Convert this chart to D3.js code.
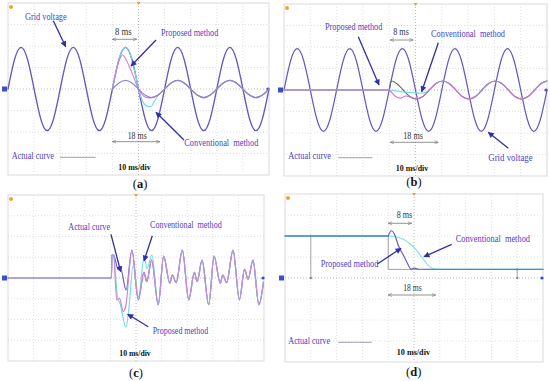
<!DOCTYPE html>
<html><head><meta charset="utf-8">
<script src="https://cdn.jsdelivr.net/npm/d3@7"></script>
<style>body{margin:0;background:#fff}svg{display:block}</style>
</head><body>
<svg id="c" width="550" height="381"></svg>
<script>
// ---------------- DATA (time in ms, value in divisions) ----------------
const STEP = 2.5; // sample spacing of the uniformly sampled waveforms
// (a) phase jump / sag: grid voltage sampled every 2.5 ms from 0 ms
const gridA = [0,1.37,1.94,1.37,0,-1.37,-1.94,-1.37, 0,1.37,1.94,1.37,0,-1.37,-1.94,-1.37,
               0,1.37,1.94,1.37,0,-1.37,-1.94,-1.37, 0,1.37,1.94,1.37,0,-1.37,-1.94,-1.37,
               0,1.37,1.94,1.37,0,-1.37,-1.94,-1.37, 0];
// (a) actual curve after the sag, sampled every 2.5 ms from 40 ms
const sagA = [0,0.28,0.4,0.28,0,-0.28,-0.4,-0.28, 0,0.28,0.4,0.28,0,-0.28,-0.4,-0.28,
              0,0.28,0.4,0.28,0,-0.28,-0.4,-0.28, 0];
const propA = [[40,0],[41.25,0.74],[42.5,1.3],[43.9,1.58],[45.5,1.3],[47.5,0.75],[50,0],[52,-0.33],[53.8,-0.42],[55,-0.4]];
const convA = [[40,0],[41.25,0.74],[42.5,1.37],[43.75,1.79],[45,1.94],[46.25,1.79],[47.5,1.37],[48.75,0.74],[50,0],[51.5,-0.55],[53.2,-0.8],[54.8,-0.82],[56,-0.6],[57.5,-0.3]];

// (b)
const gridB = [0,1.36,1.92,1.36,0,-1.36,-1.92,-1.36, 0,1.36,1.92,1.36,0,-1.36,-1.92,-1.36,
               0,1.36,1.92,1.36,0,-1.36,-1.92,-1.36, 0,1.36,1.92,1.36,0,-1.36,-1.92,-1.36,
               0,1.36,1.92,1.36,0,-1.36,-1.92,-1.36, 0];
const actB = [[0,0],[40,0],[40.6,0.39],[41.3,0.41],[42.8,0.30],[45.3,0],[47.8,-0.30],[50.3,-0.42],[52.8,-0.30],[55.3,0],
              [57.8,0.30],[60.3,0.42],[62.8,0.30],[65.3,0],[67.8,-0.30],[70.3,-0.42],[72.8,-0.30],[75.3,0],[77.8,0.30],
              [80.3,0.42],[82.8,0.30],[85.3,0],[87.8,-0.30],[90.3,-0.42],[92.8,-0.30],[95.3,0],[97.8,0.30],[100,0.42]];
const propBTrans = [[0,0],[40,0],[41,-0.12],[42.4,-0.3],[44.3,-0.38],[46.2,-0.28],[47.8,-0.31]];
const convBTrans = [[0,0],[40,0],[43,-0.05],[46,-0.1],[49,-0.13],[52,-0.15],[54.3,-0.08],[56.3,0.12]];

// (c) harmonic distortion
const actC = [[0,0],[40.4,0],[40.6,1.1],[41.2,1.12],[43.1,0.39],[44.0,0.47],[46.1,-0.58],
  [48.4,1.35],[50.9,-1.05],[53.1,0.27],[54.2,-0.18],[56.1,0.86],[58.7,-1.29],[60.8,1.05],[63.2,-0.25],[64.2,0.14],[65.7,-0.22],
  [68.1,1.34],[70.6,-1.05],[72.8,0.27],[73.9,-0.18],[75.8,0.86],[78.4,-1.29],[80.5,1.05],[82.9,-0.25],[83.9,0.14],[85.4,-0.22],
  [87.9,1.34],[90.4,-1.05],[92.4,0.42],[93.8,-0.06],[95.7,0.86],[98.0,-1.29],[99.8,-0.2]];
const propCTrans = [[0,0],[40.4,0],[40.6,1.1],[41.2,1.12],[42.5,-1.06],[43.6,-0.98],[45.0,-1.62],[46.0,-1.35],[48.4,1.35]];
const convCTrans = [[0,0],[40.4,0],[40.6,1.1],[41.2,1.12],[42.7,-0.85],[43.8,-1.25],[46.1,-2.38],[47.1,-1.6],[48.9,0.6],
  [51.0,-0.9],[53.2,1.03],[54.3,0.45],[56.2,1.1],[58.7,-1.29]];

// (d) amplitude step
const actD = [[0,2.0],[40,2.0],[40,0.41],[100,0.41]];
const propD = [[0,2.0],[40,2.0],[41.2,2.25],[42.3,2.12],[43.9,1.56],[45.9,1.08],[47.2,0.76],[48.3,0.5],[48.9,0.42],[50.0,0.47],[51.5,0.41],[100,0.41]];
const convD = [[0,2.0],[40,2.0],[42,1.98],[44,1.93],[46.5,1.8],[48.5,1.62],[50.4,1.4],[53,1.0],[55.5,0.6],[57,0.46],[58.5,0.41],[100,0.41]];
const cursorsD = [[10,2.0,0],[90,0.41,0]];

// time spans marked on the figures
const spanShort = {a:[40,49.3], b:[40.4,49.2], d:[40,49.1]};
const spanLong  = {a:[40,58.2], b:[40.4,58.7], d:[40,58.4]};

// ---------------- LAYOUT ----------------
const PANELS = {
  a:{x0:8,x1:269,y0:3,y1:175},
  b:{x0:284,x1:547,y0:4,y1:176},
  c:{x0:8,x1:264,y0:195,y1:361},
  d:{x0:285,x1:543,y0:194,y1:362}
};
const COL = {text:'#4b3fc9', arrow:'#2f2fa6', dim:'#777'};
const FONT = '"Liberation Serif","Times New Roman",serif';

const svg = d3.select('#c');
const defs = svg.append('defs');
defs.append('marker').attr('id','ah').attr('viewBox','0 0 10 10').attr('refX',9).attr('refY',5)
  .attr('markerWidth',7).attr('markerHeight',6).attr('markerUnits','userSpaceOnUse').attr('orient','auto')
  .append('path').attr('d','M0,0L10,5L0,10z').attr('fill',COL.arrow);
defs.append('marker').attr('id','dh').attr('viewBox','0 0 10 10').attr('refX',10).attr('refY',5)
  .attr('markerWidth',4).attr('markerHeight',4).attr('markerUnits','userSpaceOnUse').attr('orient','auto-start-reverse')
  .append('path').attr('d','M0,1L10,5L0,9').attr('fill','none').attr('stroke',COL.dim).attr('stroke-width',1.5);

const S = {};
for (const k in PANELS){
  const p = PANELS[k];
  S[k] = {x:d3.scaleLinear().domain([0,100]).range([p.x0,p.x1]),
          y:d3.scaleLinear().domain([-4,4]).range([p.y1,p.y0])};
}

function frame(k){
  const p = PANELS[k], s = S[k], g = svg.append('g');
  g.append('rect').attr('x',p.x0).attr('y',p.y0).attr('width',p.x1-p.x0).attr('height',p.y1-p.y0)
    .attr('fill','none').attr('stroke','#dadada').attr('stroke-width',1);
  g.selectAll('.vx').data(d3.range(1,10)).join('line')
    .attr('x1',d=>s.x(d*10)).attr('x2',d=>s.x(d*10)).attr('y1',p.y0).attr('y2',p.y1)
    .attr('stroke',d=>d===5?'#bdbdbd':'#e0e0e0').attr('stroke-width',1).attr('stroke-dasharray','1,2');
  g.selectAll('.hy').data(d3.range(-3,4)).join('line')
    .attr('y1',d=>s.y(d)).attr('y2',d=>s.y(d)).attr('x1',p.x0).attr('x2',p.x1)
    .attr('stroke',d=>d===0?'#bdbdbd':'#e0e0e0').attr('stroke-width',1).attr('stroke-dasharray','1,2');
  // scope markers
  g.append('circle').attr('cx',p.x0+3).attr('cy',p.y0+4).attr('r',2).attr('fill','#f0a030');
  g.append('path').attr('d',`M${s.x(50)-2},${p.y0-1}L${s.x(50)+2},${p.y0-1}L${s.x(50)},${p.y0+2}z`).attr('fill','#f0a030');
  g.append('rect').attr('x',p.x0-6).attr('y',s.y(0)-2.5).attr('width',5).attr('height',5).attr('fill','#3a4fc4');
  g.append('circle').attr('cx',p.x1-1).attr('cy',s.y(0)).attr('r',1.6).attr('fill','#3a4fc4');
}

function curvePath(k, data, color, w, curve){
  const s = S[k];
  svg.append('path').datum(data)
    .attr('d', d3.line().x(d=>s.x(d[0])).y(d=>s.y(d[1])).curve(curve||d3.curveMonotoneX))
    .attr('fill','none').attr('stroke',color).attr('stroke-width',w)
    .attr('stroke-linejoin','round').attr('stroke-linecap','round');
}
const samples = (arr,t0)=>arr.map((v,i)=>[t0+i*STEP, v]);
const withTail = (trans, tail)=>trans.concat(tail.filter(d=>d[0]>trans[trans.length-1][0]));

function label(txt,x,y,w,opt={}){
  const t = svg.append('text').attr('x',x).attr('y',y).attr('font-family',FONT)
    .attr('font-size',opt.size||9.5).attr('fill',opt.color||COL.text)
    .attr('font-weight',opt.bold?'bold':'normal').style('white-space','pre').text(txt);
  if (w) t.attr('textLength',w).attr('lengthAdjust','spacingAndGlyphs');
}
function arrow(x1,y1,x2,y2){
  svg.append('line').attr('x1',x1).attr('y1',y1).attr('x2',x2).attr('y2',y2)
    .attr('stroke',COL.arrow).attr('stroke-width',1.3).attr('marker-end','url(#ah)');
}
function span(k, sp, y){
  const s = S[k];
  svg.append('line').attr('x1',s.x(sp[0])).attr('x2',s.x(sp[1])).attr('y1',y).attr('y2',y)
    .attr('stroke',COL.dim).attr('stroke-width',0.8)
    .attr('marker-start','url(#dh)').attr('marker-end','url(#dh)');
}
function legendLine(x1,x2,y){
  svg.append('line').attr('x1',x1).attr('x2',x2).attr('y1',y).attr('y2',y).attr('stroke','#a0a0ae').attr('stroke-width',1);
}
function caption(letter,cx,y){
  const t = svg.append('text').attr('x',cx).attr('y',y).attr('text-anchor','middle')
    .attr('font-family',FONT).attr('font-size',12.5).attr('fill','#111');
  t.append('tspan').text('(');
  t.append('tspan').attr('font-weight','bold').text(letter);
  t.append('tspan').text(')');
}

['a','b','c','d'].forEach(frame);

// ---- (a)
const sagApts = samples(sagA,40);
curvePath('a', samples(gridA,0), '#6259bf', 1.3, d3.curveNatural);
curvePath('a', withTail(convA, sagApts), '#6fdbe6', 1.1);
curvePath('a', withTail(propA, sagApts), '#d67ad8', 1.1);
curvePath('a', sagApts, '#8f86c2', 1.1, d3.curveNatural);
span('a', spanShort.a, 39.3); span('a', spanLong.a, 141.7);
label('Grid voltage',25,19.5,41.7);
label('8 ms',115,35,16.7,{color:'#333'});
label('Proposed method',161,36,57.3);
label('18 ms',127.7,139,19,{color:'#333'});
label('Conventional  method',184.3,145.7,74);
label('Actual curve',11.7,159.3,42.3);
legendLine(60,95.7,157.3);
label('10 ms/div',118.3,170,32.4,{bold:true,color:'#111',size:9});
arrow(53.3,20.7,65.7,46.7); arrow(156,40,131,66); arrow(184,140,156,112.3);
caption('a',140,188);

// ---- (b)
curvePath('b', samples(gridB,0), '#6259bf', 1.2, d3.curveNatural);
curvePath('b', actB, '#5f6f73', 1.1);
curvePath('b', withTail(convBTrans, actB), '#6fdbe6', 1.1);
curvePath('b', withTail(propBTrans, actB), '#cf6fd0', 1.1);
span('b', spanShort.b, 40); span('b', spanLong.b, 142.3);
label('Proposed method',325,30,57.3);
label('8 ms',393.3,35,15.5,{color:'#333'});
label('Conventional  method',431,36.7,74);
label('18 ms',403.3,139.3,19.5,{color:'#333'});
label('Grid voltage',488.3,160.7,44.4);
label('Actual curve',288.3,159.3,42.7);
legendLine(338.3,372.3,157.7);
label('10 ms/div',395.7,170.7,32.6,{bold:true,color:'#111',size:9});
arrow(358.3,36.7,379,85); arrow(438.3,42.7,421.7,91.7); arrow(508.3,148.3,488.3,132.3);
caption('b',414,186);

// ---- (c)
curvePath('c', actC, '#6a5fc4', 1.2);
curvePath('c', withTail(convCTrans, actC), '#6fdbe6', 1.1);
curvePath('c', withTail(propCTrans, actC), '#c98ad9', 1.2);
label('Actual curve',68.3,230,41.7);
label('Conventional  method',150,228.3,71.7);
label('Proposed method',152.7,334.3,55.6);
label('10 ms/div',119.3,355.7,31.4,{bold:true,color:'#111',size:9});
arrow(111,234.3,120.7,271.7); arrow(152.3,235.7,144,261); arrow(148.3,326.7,127.7,314.3);
caption('c',136,377);

// ---- (d)
const sd = S.d;
svg.selectAll('.cur').data(cursorsD).join('line')
  .attr('x1',d=>sd.x(d[0])).attr('x2',d=>sd.x(d[0])).attr('y1',d=>sd.y(d[1])).attr('y2',d=>sd.y(d[2]))
  .attr('stroke','#a8a8a8').attr('stroke-width',1);
svg.selectAll('.curdot').data(cursorsD.flatMap(d=>[[d[0],d[1]],[d[0],d[2]]])).join('circle')
  .attr('cx',d=>sd.x(d[0])).attr('cy',d=>sd.y(d[1])).attr('r',1.2).attr('fill','#888');
curvePath('d', actD, '#a0a0a0', 1, d3.curveLinear);
curvePath('d', convD, '#86e3e6', 1.2);
curvePath('d', propD.filter(d=>d[0]>=40 && d[0]<=51.5), '#6a5cc4', 1.2);
curvePath('d', propD.filter(d=>d[0]<=40), '#4a86e0', 1.3, d3.curveLinear);
curvePath('d', propD.filter(d=>d[0]>=51.5), '#4a86e0', 1.3, d3.curveLinear);
span('d', spanShort.d, 223.3); span('d', spanLong.d, 295);
label('8 ms',396.7,218.3,15.5,{color:'#333'});
label('Conventional  method',455.7,241.7,74.3);
label('Proposed method',320.7,266.7,57.6);
label('18 ms',403.3,291,18.4,{color:'#333'});
label('Actual curve',288.3,344.3,41.7);
legendLine(338.3,371.7,342.3);
label('10 ms/div',396.7,355,33.3,{bold:true,color:'#111',size:9});
arrow(451.7,244.3,424,256.7); arrow(377.3,264,401,248.3);
caption('d',413.7,376);
</script>
</body></html>
